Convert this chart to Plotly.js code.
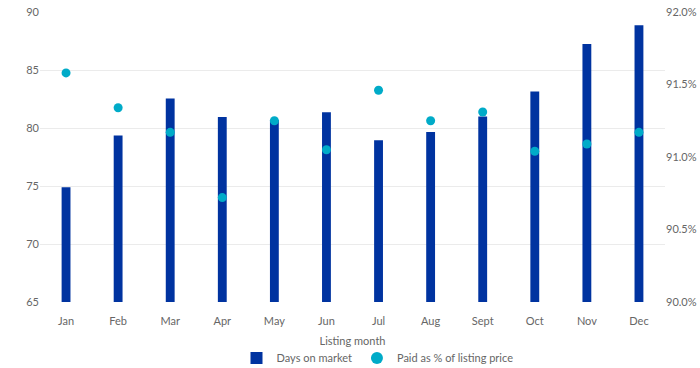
<!DOCTYPE html>
<html>
<head>
<meta charset="utf-8">
<script src="https://cdn.plot.ly/plotly-3.0.1.min.js"></script>
<style>html,body{margin:0;padding:0;background:#fff;}#chart{width:700px;height:368px;}</style>
</head>
<body>
<div id="chart"></div>
<script>
const months = ["Jan","Feb","Mar","Apr","May","Jun","Jul","Aug","Sept","Oct","Nov","Dec"];
const daysOnMarket = [74.9, 79.35, 82.55, 80.95, 80.7, 81.35, 78.95, 79.65, 81.0, 83.15, 87.25, 88.85];
const paidPct = [91.58, 91.34, 91.17, 90.72, 91.25, 91.05, 91.46, 91.25, 91.31, 91.04, 91.09, 91.17];
const seriesNames = ["Days on market", "Paid as % of listing price"];
const xTitle = "Listing month";

const font = {family: "Lato, 'Open Sans', sans-serif", size: 11, color: "#666666"};

const traces = [
  {
    type: "bar", x: months, y: daysOnMarket, name: seriesNames[0],
    marker: {color: "#0033a0"}, width: 0.17, yaxis: "y"
  },
  {
    type: "scatter", mode: "markers", x: months, y: paidPct, name: seriesNames[1],
    marker: {color: "#00abc8", size: 9}, yaxis: "y2"
  }
];

const layout = {
  width: 700, height: 368,
  margin: {l: 40, r: 35, t: 12, b: 66, autoexpand: false},
  paper_bgcolor: "#fff", plot_bgcolor: "#fff",
  font: font,
  showlegend: true,
  legend: {orientation: "h", x: 0.54, xanchor: "center", y: -0.193, yanchor: "middle", font: font, itemsizing: "constant"},
  xaxis: {
    type: "category", range: [-0.5, months.length - 0.5], showgrid: false, zeroline: false, showline: false,
    ticks: "", ticklabelstandoff: 11, automargin: false,
    tickfont: font, title: {text: xTitle, font: font, standoff: 11}
  },
  yaxis: {
    range: [65, 90], dtick: 5, tick0: 65, showgrid: true, gridcolor: "#ebebeb", gridwidth: 1,
    zeroline: false, showline: false, ticks: "", tickfont: font, automargin: false
  },
  yaxis2: {
    range: [90, 92], dtick: 0.5, tick0: 90, overlaying: "y", side: "right",
    tickformat: ".1f", ticksuffix: "%", showgrid: false, zeroline: false, showline: false,
    ticks: "", tickfont: font, automargin: false
  },
  bargap: 0.8
};

Plotly.newPlot("chart", traces, layout, {displayModeBar: false, staticPlot: true});
</script>
</body>
</html>
